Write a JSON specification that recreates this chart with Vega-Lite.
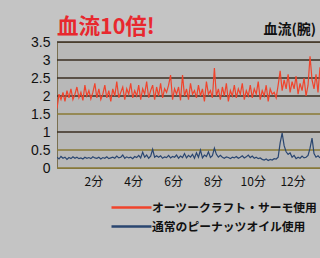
{
  "$schema": "https://vega.github.io/schema/vega-lite/v6.json",
  "autosize": "none",
  "width": 263,
  "height": 126,
  "padding": {"left": 57, "top": 42, "right": 0, "bottom": 90},
  "background": "#c4c4c4",
  "config": {
    "view": {"fill": "#b8b8b8", "stroke": "#7a7050", "strokeWidth": 1},
    "font": "Noto Sans CJK JP"
  },
  "layer": [
    {
      "data": {"values": [{"value": 0}, {"value": 0.5}, {"value": 1.5}]},
      "mark": {"type": "rule", "color": "#8a7a34", "strokeWidth": 1.5},
      "encoding": {"y": {"field": "value", "type": "quantitative"}}
    },
    {
      "data": {"values": [{"value": 1}, {"value": 2}, {"value": 2.5}, {"value": 3}, {"value": 3.5}]},
      "mark": {"type": "rule", "color": "#3a2e22", "strokeWidth": 1.5},
      "encoding": {"y": {"field": "value", "type": "quantitative"}}
    },
    {
      "data": {
        "values": [
          {"t":0.0,"a":1.65,"b":0.3},{"t":0.1,"a":2.05,"b":0.25},{"t":0.2,"a":1.9,"b":0.32},{"t":0.3,"a":2.1,"b":0.27},{"t":0.4,"a":1.85,"b":0.3},{"t":0.5,"a":2.15,"b":0.24},{"t":0.6,"a":1.95,"b":0.29},{"t":0.7,"a":2.2,"b":0.26},{"t":0.8,"a":1.9,"b":0.31},{"t":0.9,"a":2.05,"b":0.27},
          {"t":1.0,"a":2.25,"b":0.3},{"t":1.1,"a":1.95,"b":0.26},{"t":1.2,"a":2.1,"b":0.28},{"t":1.3,"a":1.88,"b":0.25},{"t":1.4,"a":2.3,"b":0.3},{"t":1.5,"a":2.0,"b":0.27},{"t":1.6,"a":2.15,"b":0.29},{"t":1.7,"a":1.92,"b":0.26},{"t":1.8,"a":2.1,"b":0.31},{"t":1.9,"a":2.35,"b":0.28},
          {"t":2.0,"a":1.95,"b":0.27},{"t":2.1,"a":2.2,"b":0.3},{"t":2.2,"a":1.9,"b":0.25},{"t":2.3,"a":2.05,"b":0.29},{"t":2.4,"a":2.3,"b":0.27},{"t":2.5,"a":1.95,"b":0.31},{"t":2.6,"a":2.15,"b":0.26},{"t":2.7,"a":1.85,"b":0.28},{"t":2.8,"a":2.2,"b":0.3},{"t":2.9,"a":2.0,"b":0.27},
          {"t":3.0,"a":2.4,"b":0.33},{"t":3.1,"a":1.95,"b":0.28},{"t":3.2,"a":2.1,"b":0.3},{"t":3.3,"a":2.25,"b":0.36},{"t":3.4,"a":1.9,"b":0.27},{"t":3.5,"a":2.2,"b":0.31},{"t":3.6,"a":2.05,"b":0.28},{"t":3.7,"a":2.35,"b":0.3},{"t":3.8,"a":1.95,"b":0.26},{"t":3.9,"a":2.15,"b":0.32},
          {"t":4.0,"a":2.0,"b":0.29},{"t":4.1,"a":2.3,"b":0.35},{"t":4.2,"a":1.9,"b":0.28},{"t":4.3,"a":2.2,"b":0.44},{"t":4.4,"a":2.05,"b":0.3},{"t":4.5,"a":2.4,"b":0.36},{"t":4.6,"a":1.95,"b":0.27},{"t":4.7,"a":2.15,"b":0.33},{"t":4.8,"a":2.3,"b":0.52},{"t":4.9,"a":1.9,"b":0.3},
          {"t":5.0,"a":2.25,"b":0.34},{"t":5.1,"a":2.0,"b":0.3},{"t":5.2,"a":2.35,"b":0.34},{"t":5.3,"a":1.95,"b":0.27},{"t":5.4,"a":2.2,"b":0.31},{"t":5.5,"a":2.1,"b":0.29},{"t":5.6,"a":2.3,"b":0.35},{"t":5.7,"a":2.58,"b":0.28},{"t":5.8,"a":1.9,"b":0.32},{"t":5.9,"a":2.2,"b":0.3},
          {"t":6.0,"a":2.05,"b":0.36},{"t":6.1,"a":2.25,"b":0.27},{"t":6.2,"a":1.88,"b":0.33},{"t":6.3,"a":2.58,"b":0.29},{"t":6.4,"a":2.0,"b":0.4},{"t":6.5,"a":2.2,"b":0.28},{"t":6.6,"a":1.9,"b":0.35},{"t":6.7,"a":2.35,"b":0.3},{"t":6.8,"a":2.05,"b":0.38},{"t":6.9,"a":2.15,"b":0.27},
          {"t":7.0,"a":1.95,"b":0.42},{"t":7.1,"a":2.3,"b":0.3},{"t":7.2,"a":2.0,"b":0.5},{"t":7.3,"a":2.2,"b":0.28},{"t":7.4,"a":1.85,"b":0.36},{"t":7.5,"a":2.4,"b":0.32},{"t":7.6,"a":2.05,"b":0.45},{"t":7.7,"a":2.15,"b":0.29},{"t":7.8,"a":1.95,"b":0.34},{"t":7.9,"a":2.78,"b":0.55},
          {"t":8.0,"a":2.0,"b":0.38},{"t":8.1,"a":2.2,"b":0.3},{"t":8.2,"a":1.9,"b":0.35},{"t":8.3,"a":2.25,"b":0.3},{"t":8.4,"a":2.0,"b":0.27},{"t":8.5,"a":2.35,"b":0.31},{"t":8.6,"a":1.85,"b":0.29},{"t":8.7,"a":2.15,"b":0.26},{"t":8.8,"a":2.0,"b":0.3},{"t":8.9,"a":2.3,"b":0.28},
          {"t":9.0,"a":1.95,"b":0.32},{"t":9.1,"a":2.2,"b":0.27},{"t":9.2,"a":2.05,"b":0.3},{"t":9.3,"a":2.35,"b":0.34},{"t":9.4,"a":1.9,"b":0.28},{"t":9.5,"a":2.15,"b":0.31},{"t":9.6,"a":2.0,"b":0.36},{"t":9.7,"a":2.3,"b":0.29},{"t":9.8,"a":1.95,"b":0.33},{"t":9.9,"a":2.2,"b":0.27},
          {"t":10.0,"a":2.05,"b":0.3},{"t":10.1,"a":2.4,"b":0.26},{"t":10.2,"a":1.9,"b":0.28},{"t":10.3,"a":2.15,"b":0.24},{"t":10.4,"a":2.0,"b":0.22},{"t":10.5,"a":2.3,"b":0.25},{"t":10.6,"a":1.85,"b":0.21},{"t":10.7,"a":2.2,"b":0.24},{"t":10.8,"a":2.05,"b":0.22},{"t":10.9,"a":2.1,"b":0.26},
          {"t":11.0,"a":1.95,"b":0.25},{"t":11.1,"a":2.3,"b":0.3},{"t":11.2,"a":2.7,"b":0.7},{"t":11.3,"a":2.15,"b":0.97},{"t":11.4,"a":2.45,"b":0.62},{"t":11.5,"a":2.2,"b":0.45},{"t":11.6,"a":2.6,"b":0.38},{"t":11.7,"a":2.1,"b":0.42},{"t":11.8,"a":2.4,"b":0.3},{"t":11.9,"a":2.2,"b":0.35},
          {"t":12.0,"a":2.55,"b":0.26},{"t":12.1,"a":2.05,"b":0.3},{"t":12.2,"a":2.35,"b":0.27},{"t":12.3,"a":2.15,"b":0.33},{"t":12.4,"a":2.5,"b":0.28},{"t":12.5,"a":2.0,"b":0.3},{"t":12.6,"a":2.3,"b":0.35},{"t":12.7,"a":3.1,"b":0.55},{"t":12.8,"a":2.45,"b":0.83},{"t":12.9,"a":2.2,"b":0.4},
          {"t":13.0,"a":2.6,"b":0.3},{"t":13.1,"a":2.1,"b":0.34},{"t":13.2,"a":2.8,"b":0.28}
        ]
      },
      "transform": [{"fold": ["a", "b"], "as": ["series", "value"]}],
      "mark": {"type": "line", "strokeWidth": 1.2, "clip": true},
      "encoding": {
        "x": {
          "field": "t", "type": "quantitative",
          "scale": {"domain": [0, 13.2], "nice": false},
          "axis": {
            "values": [2, 4, 6, 8, 10, 12],
            "labelExpr": "datum.value + '分'",
            "title": null, "domain": false, "ticks": false, "grid": false,
            "labelFontSize": 12, "labelColor": "#111111", "labelPadding": 8,
            "labelOffset": -3.5, "labelFont": "Noto Sans CJK JP"
          }
        },
        "y": {
          "field": "value", "type": "quantitative",
          "scale": {"domain": [0, 3.5], "nice": false},
          "axis": {
            "values": [0, 0.5, 1, 1.5, 2, 2.5, 3, 3.5],
            "tickCount": 8,
            "labelExpr": "format(datum.value, '~g')",
            "title": null, "domain": false, "ticks": false, "grid": false,
            "labelOverlap": false,
            "labelFontSize": 14, "labelColor": "#111111", "labelPadding": 7,
            "labelFont": "Liberation Sans"
          }
        },
        "color": {
          "field": "series", "type": "nominal",
          "scale": {"domain": ["a", "b"], "range": ["#f0442c", "#2a4670"]},
          "legend": {
            "orient": "none", "legendX": 53, "legendY": 154,
            "title": null, "symbolType": "M-1,0H3", "symbolSize": 400,
            "symbolStrokeWidth": 2.5, "labelFontSize": 11.8, "labelFontWeight": "bold",
            "labelColor": "#111111", "labelFont": "Noto Sans CJK JP",
            "rowPadding": 0, "labelOffset": 19, "labelLimit": 300,
            "labelExpr": "datum.value == 'a' ? 'オーツークラフト・サーモ使用' : '通常のピーナッツオイル使用'"
          }
        }
      }
    },
    {
      "data": {"values": [{"t": 0, "value": 3.5, "label": "血流10倍!"}]},
      "mark": {"type": "text", "align": "left", "baseline": "alphabetic", "dx": 0, "dy": -8, "fontSize": 21.5, "fontWeight": "bold", "font": "Noto Sans CJK JP", "color": "#e8282e"},
      "encoding": {
        "x": {"field": "t", "type": "quantitative"},
        "y": {"field": "value", "type": "quantitative"},
        "text": {"field": "label"}
      }
    },
    {
      "data": {"values": [{"t": 13.2, "value": 3.5, "label": "血流(腕)"}]},
      "mark": {"type": "text", "align": "right", "baseline": "alphabetic", "dx": -4, "dy": -8, "fontSize": 14, "fontWeight": "bold", "font": "Noto Sans CJK JP", "color": "#111111"},
      "encoding": {
        "x": {"field": "t", "type": "quantitative"},
        "y": {"field": "value", "type": "quantitative"},
        "text": {"field": "label"}
      }
    }
  ]
}
